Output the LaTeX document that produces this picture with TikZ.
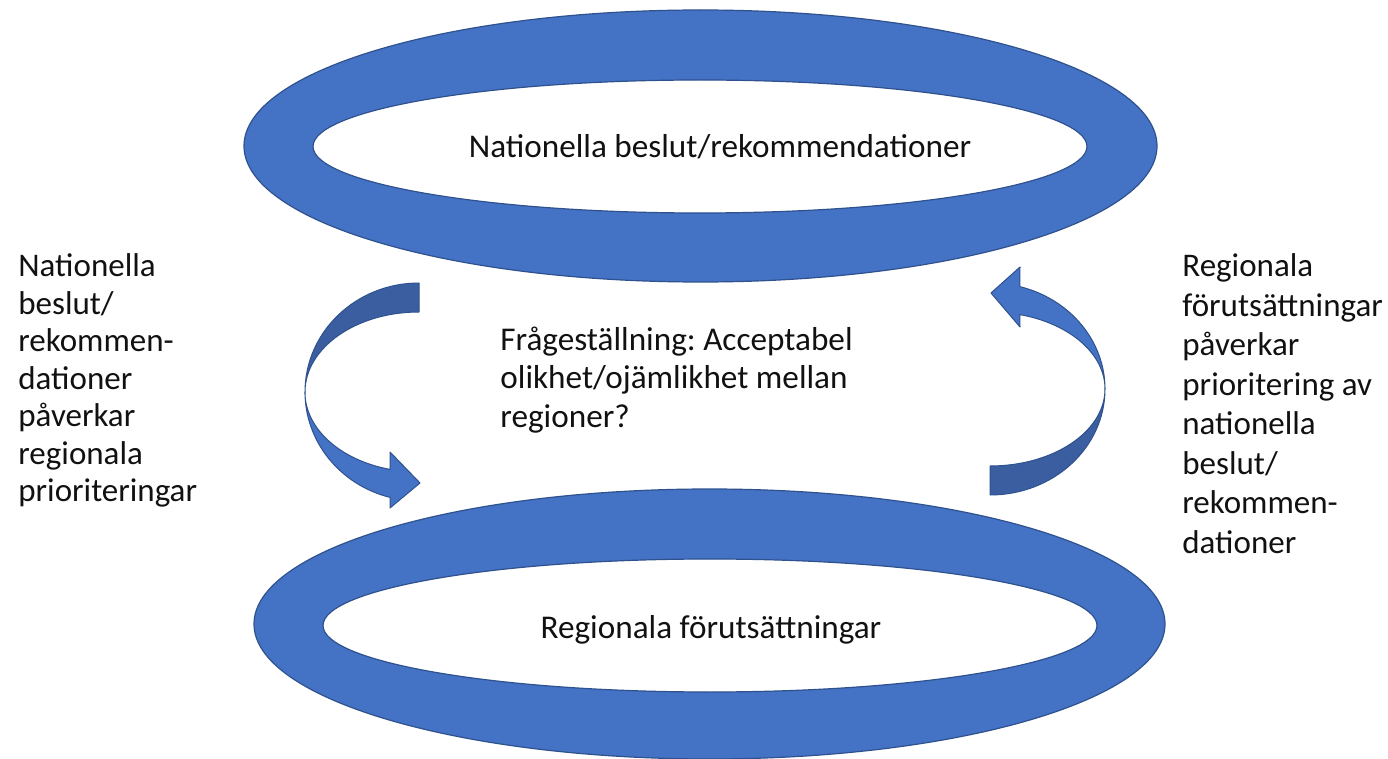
\documentclass[tikz,border=0pt]{standalone}
\usepackage{fontspec}
\setmainfont{Carlito}
\frenchspacing
\definecolor{ringblue}{HTML}{4472C4}
\definecolor{ringedge}{HTML}{2F528F}
\definecolor{arrowdark}{HTML}{3A5E9F}
\definecolor{txt}{HTML}{111111}
\begin{document}
\begin{tikzpicture}[x=0.5pt,y=-0.5pt,
  ring/.style={fill=ringblue, draw=ringedge, line width=0.6pt, even odd rule},
  lightpart/.style={fill=ringblue, draw=ringedge, line width=0.5pt, line join=round},
  darkpart/.style={fill=arrowdark, draw=ringedge, line width=0.5pt, line join=round},
  lbl/.style={inner sep=0pt, text=txt, font=\fontsize{16.6}{19.5}\selectfont},
  blockL/.style={lbl, align=left, font=\fontsize{16.5}{18.75}\selectfont},
  blockR/.style={lbl, align=left, font=\fontsize{16.5}{19.75}\selectfont},
  blockM/.style={lbl, align=left, font=\fontsize{16.6}{19.5}\selectfont}]
\useasboundingbox (0,0) rectangle (1388,759);
\fill[white] (0,0) rectangle (1388,759);

% top ring
\path[ring] (700.5,146) ellipse [x radius=456.5, y radius=136]
            (700,146.5) ellipse [x radius=387, y radius=66.5];
% bottom ring
\path[ring] (709.5,624) ellipse [x radius=455.5, y radius=135]
            (710,625.5) ellipse [x radius=387, y radius=66.5];

% left curved arrow (centre 419,392)
\path[darkpart] (419,283) arc[start angle=-90, end angle=-180, x radius=114, y radius=109]
   arc[start angle=180, end angle=270, x radius=114, y radius=80] -- cycle;
\path[lightpart] (305,392) arc[start angle=180, end angle=104.7, x radius=114, y radius=109]
   -- (390,508) -- (420,483) -- (390,452) -- (390,469.4)
   arc[start angle=104.7, end angle=180, x radius=114, y radius=80] -- cycle;

% right curved arrow (centre 990,389)
\path[darkpart] (990,495) arc[start angle=90, end angle=0, x radius=115, y radius=106]
   arc[start angle=0, end angle=90, x radius=115, y radius=77] -- cycle;
\path[lightpart] (1105,389) arc[start angle=0, end angle=-75, x radius=115, y radius=106]
   -- (1020,267) -- (991,293) -- (1020,327) -- (1019.8,314.6)
   arc[start angle=-75, end angle=0, x radius=115, y radius=77] -- cycle;

% texts (base anchor = baseline of the last line)
\node[lbl, anchor=base] (nat) at (720,158) {Nationella beslut/rekommendationer};
\node[lbl, anchor=base] (reg) at (711,638) {Regionala förutsättningar};
\node[blockM, anchor=base west] (q) at (500,428) {Frågeställning: Acceptabel\\olikhet/ojämlikhet mellan\\regioner?};
\node[blockL, anchor=base west] (lt) at (18,502) {Nationella\\beslut/\\rekommen-\\dationer\\påverkar\\regionala\\prioriteringar};
\node[blockR, anchor=base west] (rt) at (1182,553) {Regionala\\förutsättningar\\påverkar\\prioritering av\\nationella\\beslut/\\rekommen-\\dationer};
\end{tikzpicture}
\end{document}
